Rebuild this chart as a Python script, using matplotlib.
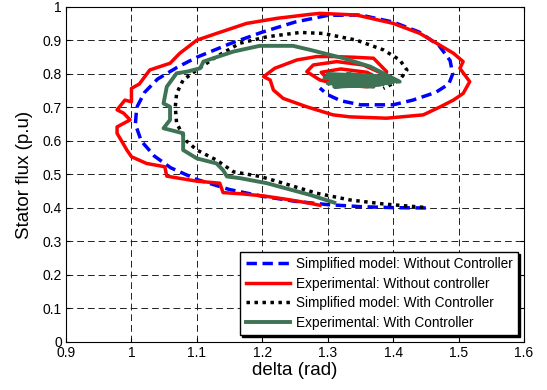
import matplotlib
matplotlib.use("Agg")
import matplotlib.pyplot as plt

plt.rcParams['font.family'] = ['Liberation Sans', 'DejaVu Sans']

# Simplified model: without controller
sim_nc_delta = [1.45, 1.40, 1.35, 1.30, 1.25, 1.20, 1.15, 1.10, 1.06, 1.035, 1.015, 1.006,
                1.008, 1.02, 1.04, 1.07, 1.10, 1.15, 1.20, 1.25, 1.30, 1.35, 1.40, 1.44,
                1.47, 1.487, 1.491, 1.485, 1.465, 1.43, 1.40, 1.35, 1.32, 1.30, 1.288]
sim_nc_flux = [0.400, 0.401, 0.404, 0.410, 0.420, 0.435, 0.455, 0.485, 0.520, 0.555, 0.600, 0.650,
               0.700, 0.745, 0.785, 0.820, 0.850, 0.890, 0.925, 0.955, 0.975, 0.976, 0.955, 0.925,
               0.885, 0.840, 0.800, 0.770, 0.745, 0.722, 0.708, 0.708, 0.720, 0.738, 0.758]

# Experimental: without controller
exp_nc_delta = [1.288, 1.273, 1.240, 1.202, 1.170, 1.140, 1.135, 1.100, 1.054, 1.051, 1.023, 1.000,
                0.993, 0.988, 0.978, 0.978, 0.998, 0.988, 0.978, 0.990, 1.000, 1.000, 1.012,
                1.028, 1.059, 1.074, 1.100, 1.130, 1.176, 1.222, 1.273, 1.288, 1.344, 1.400,
                1.441, 1.467, 1.492, 1.507, 1.502, 1.517, 1.507, 1.492, 1.472, 1.446, 1.390,
                1.334, 1.308, 1.268, 1.232, 1.217, 1.212, 1.202, 1.219, 1.253, 1.283, 1.308,
                1.340, 1.370, 1.390, 1.385, 1.360, 1.319, 1.288, 1.268, 1.278, 1.314, 1.354,
                1.385, 1.370, 1.330, 1.300, 1.290, 1.320, 1.360, 1.380]
exp_nc_flux = [0.408, 0.414, 0.425, 0.436, 0.442, 0.446, 0.474, 0.480, 0.495, 0.523, 0.533, 0.553,
               0.573, 0.590, 0.623, 0.642, 0.663, 0.683, 0.693, 0.722, 0.717, 0.757, 0.770,
               0.812, 0.832, 0.862, 0.901, 0.921, 0.951, 0.966, 0.978, 0.981, 0.976, 0.951,
               0.921, 0.891, 0.862, 0.837, 0.817, 0.777, 0.742, 0.722, 0.702, 0.678, 0.668,
               0.672, 0.678, 0.702, 0.727, 0.752, 0.782, 0.792, 0.817, 0.842, 0.852, 0.852,
               0.850, 0.847, 0.807, 0.772, 0.762, 0.767, 0.782, 0.807, 0.827, 0.837, 0.827,
               0.800, 0.775, 0.770, 0.785, 0.805, 0.815, 0.805, 0.785]

# Simplified model: with controller
sim_wc_delta = [1.446, 1.385, 1.334, 1.283, 1.232, 1.197, 1.156, 1.130, 1.100, 1.084, 1.069,
                1.067, 1.069, 1.079, 1.100, 1.130, 1.166, 1.207, 1.258, 1.293, 1.344, 1.385,
                1.410, 1.421, 1.410, 1.385]
sim_wc_flux = [0.402, 0.412, 0.424, 0.444, 0.474, 0.494, 0.508, 0.543, 0.573, 0.600, 0.653,
               0.702, 0.742, 0.782, 0.812, 0.852, 0.892, 0.911, 0.924, 0.921, 0.901, 0.872,
               0.842, 0.812, 0.782, 0.757]

# Experimental: with controller (ends in a dense blob around 1.35, 0.78)
exp_wc_delta = [1.310, 1.273, 1.207, 1.166, 1.146, 1.140, 1.130, 1.100, 1.079, 1.079, 1.049,
                1.059, 1.059, 1.049, 1.054, 1.069, 1.085, 1.105, 1.110, 1.125, 1.156, 1.196,
                1.247, 1.273, 1.324, 1.365, 1.395, 1.410, 1.300, 1.395, 1.295, 1.385, 1.300,
                1.400, 1.310, 1.380, 1.300, 1.390, 1.320, 1.385, 1.305, 1.395, 1.330, 1.380,
                1.310, 1.370, 1.340]
exp_wc_flux = [0.416, 0.439, 0.474, 0.489, 0.494, 0.513, 0.533, 0.548, 0.573, 0.623, 0.638,
               0.663, 0.702, 0.712, 0.762, 0.802, 0.807, 0.817, 0.837, 0.847, 0.867, 0.884,
               0.884, 0.872, 0.847, 0.822, 0.792, 0.777, 0.800, 0.792, 0.788, 0.780, 0.772,
               0.776, 0.762, 0.768, 0.795, 0.786, 0.778, 0.770, 0.783, 0.772, 0.800, 0.790,
               0.768, 0.762, 0.780]

fig = plt.figure(figsize=(5.47, 3.9), dpi=100)
ax = fig.add_axes([0.1207, 0.1231, 0.8373, 0.859])

ax.plot(sim_nc_delta, sim_nc_flux, color='#0000ff', lw=2.5, dashes=(3, 1.6),
        label='Simplified model: Without Controller')
ax.plot(exp_nc_delta, exp_nc_flux, color='#ff0000', lw=2.5,
        label='Experimental: Without controller')
ax.plot(sim_wc_delta, sim_wc_flux, color='black', lw=2.5, dashes=(1, 1.3),
        label='Simplified model: With Controller')
ax.plot(exp_wc_delta, exp_wc_flux, color='#3f7355', lw=2.8,
        label='Experimental: With Controller')

ax.set_xlim(0.9, 1.6)
ax.set_ylim(0, 1)
ax.set_xticks([0.9, 1.0, 1.1, 1.2, 1.3, 1.4, 1.5, 1.6])
ax.set_xticklabels(['0.9', '1', '1.1', '1.2', '1.3', '1.4', '1.5', '1.6'])
ax.set_yticks([0, 0.1, 0.2, 0.3, 0.4, 0.5, 0.6, 0.7, 0.8, 0.9, 1])
ax.set_yticklabels(['0', '0.1', '0.2', '0.3', '0.4', '0.5', '0.6', '0.7', '0.8', '0.9', '1'])
ax.tick_params(direction='in', top=True, right=True, length=3, labelsize=10, pad=3)
ax.grid(True, color='#222222', lw=0.7, dashes=(7, 4))
ax.set_axisbelow(True)

ax.set_xlabel('delta (rad)', fontsize=13.5, labelpad=1)
ax.set_ylabel('Stator flux (p.u)', fontsize=13.5, labelpad=7)

leg = ax.legend(loc='lower right', bbox_to_anchor=(0.987, 0.021), borderaxespad=0,
                fontsize=9.8, handlelength=3.3, handletextpad=0.4, fancybox=False,
                framealpha=1, edgecolor='black', labelspacing=0.4,
                shadow={'color': 'black', 'alpha': 1, 'ox': 1.3, 'oy': -1.3})
leg.get_frame().set_linewidth(1.0)

fig.savefig('out.png', dpi=100)
